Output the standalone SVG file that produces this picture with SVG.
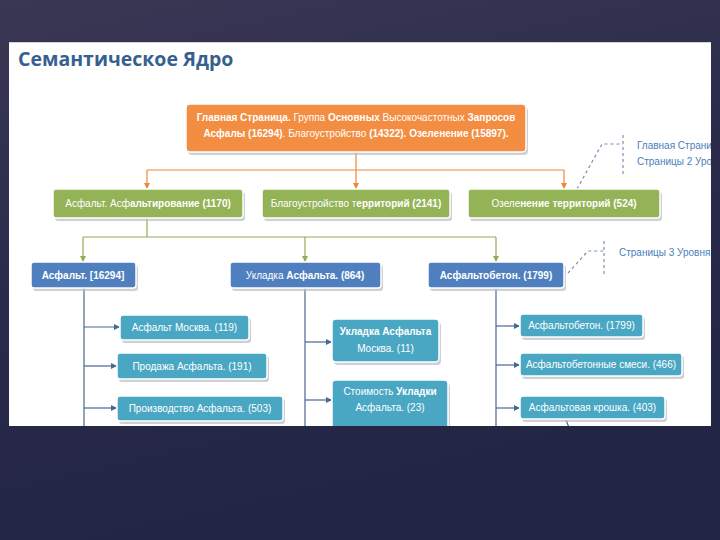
<svg xmlns="http://www.w3.org/2000/svg" width="720" height="540" viewBox="0 0 720 540">
<defs>
<linearGradient id="bg" x1="0" y1="0" x2="0.3" y2="1">
<stop offset="0" stop-color="#3a3754"/>
<stop offset="0.5" stop-color="#2a2b4b"/>
<stop offset="1" stop-color="#232545"/>
</linearGradient>
<clipPath id="panel"><rect x="9" y="42" width="702" height="384"/></clipPath>
<marker id="aO" viewBox="0 0 6 6" refX="5" refY="3" markerWidth="6" markerHeight="6" orient="auto" markerUnits="userSpaceOnUse"><path d="M0,0 L6,3 L0,6 z" fill="#e8883c"/></marker>
<marker id="aG" viewBox="0 0 6 6" refX="5" refY="3" markerWidth="6" markerHeight="6" orient="auto" markerUnits="userSpaceOnUse"><path d="M0,0 L6,3 L0,6 z" fill="#8fae4f"/></marker>
<marker id="aB" viewBox="0 0 6 6" refX="5" refY="3" markerWidth="6" markerHeight="6" orient="auto" markerUnits="userSpaceOnUse"><path d="M0,0 L6,3 L0,6 z" fill="#4a6891"/></marker>
<style>
.sh{fill:#b9bcc2;opacity:0.7}
.box{stroke:#ffffff;stroke-width:1.5}
.or{fill:#f28d42}
.gr{fill:#93b356}
.bl{fill:#4f7fbe}
.tl{fill:#49a7c3}
.t{font-family:"Liberation Sans","DejaVu Sans",sans-serif;font-size:10px;fill:#ffffff;text-anchor:middle}
.b{font-weight:bold}
.title{font-family:"Open Sans","Liberation Sans",sans-serif;font-size:19.5px;font-weight:bold;fill:#35608f}
.note{font-family:"Liberation Sans","DejaVu Sans",sans-serif;font-size:10px;fill:#4a7ebb}
.cO{stroke:#e8883c;stroke-width:1.2;fill:none}
.cG{stroke:#8fae4f;stroke-width:1.2;fill:none}
.cB{stroke:#4a6891;stroke-width:1.2;fill:none}
.dash{stroke:#7c8fae;stroke-width:1.2;stroke-dasharray:3,3;fill:none}
</style>
</defs>
<rect x="0" y="0" width="720" height="540" fill="url(#bg)"/>
<rect x="9" y="42" width="702" height="384" fill="#ffffff"/>
<line x1="9" y1="42.5" x2="711" y2="42.5" stroke="#d4d4d8" stroke-width="1"/>
<text class="title" x="18" y="66">Семантическое Ядро</text>
<g clip-path="url(#panel)">
<g id="connectors">
<path class="cO" d="M356,152 V170"/>
<path class="cO" d="M147,170 H564"/>
<path class="cO" d="M147,170 V188" marker-end="url(#aO)"/>
<path class="cO" d="M356,170 V188" marker-end="url(#aO)"/>
<path class="cO" d="M564,170 V188" marker-end="url(#aO)"/>
<path class="cG" d="M147,218 V237"/>
<path class="cG" d="M83,237 H496"/>
<path class="cG" d="M83,237 V261" marker-end="url(#aG)"/>
<path class="cG" d="M305,237 V261" marker-end="url(#aG)"/>
<path class="cG" d="M496,237 V261" marker-end="url(#aG)"/>
<path class="cB" d="M84,288 V430"/>
<path class="cB" d="M84,327 H119" marker-end="url(#aB)"/>
<path class="cB" d="M84,366 H116" marker-end="url(#aB)"/>
<path class="cB" d="M84,408 H116" marker-end="url(#aB)"/>
<path class="cB" d="M305,288 V430"/>
<path class="cB" d="M305,342 H331" marker-end="url(#aB)"/>
<path class="cB" d="M305,400 H331" marker-end="url(#aB)"/>
<path class="cB" d="M496,288 V430"/>
<path class="cB" d="M496,326 H519" marker-end="url(#aB)"/>
<path class="cB" d="M496,365 H519" marker-end="url(#aB)"/>
<path class="cB" d="M496,408 H519" marker-end="url(#aB)"/>
<path class="cB" d="M566,420 L570,430"/>
<path class="dash" d="M577,189 L602,144 H623 M623,135 V175"/>
<path class="dash" d="M568,273 L588,251 H604 M604,241 V276"/>
</g>
<g id="notes">
<text class="note" x="637" y="149">Главная Страни</text>
<text class="note" x="637" y="165">Страницы 2 Уро</text>
<text class="note" x="619" y="256">Страницы 3 Уровня</text>
</g>
<g id="n-main">
<rect class="sh" x="188" y="107" width="340" height="48" rx="4"/>
<rect class="box or" x="186" y="104" width="340" height="48" rx="4"/>
<text class="t" x="356" y="121"><tspan class="b">Главная Страница.</tspan> Группа <tspan class="b">Основных</tspan> Высокочастотных <tspan class="b">Запросов</tspan></text>
<text class="t" x="356" y="137"><tspan class="b">Асфалы (16294)</tspan>. Благоустройство <tspan class="b">(14322). Озеленение (15897).</tspan></text>
</g>
<g id="n-g1">
<rect class="sh" x="55" y="192" width="190" height="29" rx="3"/>
<rect class="box gr" x="53" y="189" width="190" height="29" rx="3"/>
<text class="t" x="148" y="207">Асфальт. Асф<tspan class="b">альтирование (1170)</tspan></text>
</g>
<g id="n-g2">
<rect class="sh" x="264" y="192" width="188" height="29" rx="3"/>
<rect class="box gr" x="262" y="189" width="188" height="29" rx="3"/>
<text class="t" x="356" y="207">Благоустройство т<tspan class="b">ерриторий (2141)</tspan></text>
</g>
<g id="n-g3">
<rect class="sh" x="470" y="192" width="192" height="29" rx="3"/>
<rect class="box gr" x="468" y="189" width="192" height="29" rx="3"/>
<text class="t" x="564" y="207">Озеле<tspan class="b">нение территорий (524)</tspan></text>
</g>
<g id="n-b1">
<rect class="sh" x="33" y="265" width="105" height="26" rx="3"/>
<rect class="box bl" x="31" y="262" width="105" height="26" rx="3"/>
<text class="t b" x="83" y="278.5">Асфальт. [16294]</text>
</g>
<g id="n-b2">
<rect class="sh" x="232" y="265" width="151" height="26" rx="3"/>
<rect class="box bl" x="230" y="262" width="151" height="26" rx="3"/>
<text class="t" x="305" y="278.5">Укладка <tspan class="b">Асфальта. (864)</tspan></text>
</g>
<g id="n-b3">
<rect class="sh" x="430" y="265" width="136" height="26" rx="3"/>
<rect class="box bl" x="428" y="262" width="136" height="26" rx="3"/>
<text class="t b" x="496" y="278.5">Асфальтобетон. (1799)</text>
</g>
<g id="n-t11">
<rect class="sh" x="122" y="318" width="129" height="25" rx="3"/>
<rect class="box tl" x="120" y="315" width="129" height="25" rx="3"/>
<text class="t" x="184.5" y="331">Асфальт Москва. (119)</text>
</g>
<g id="n-t12">
<rect class="sh" x="119" y="356" width="150" height="26" rx="3"/>
<rect class="box tl" x="117" y="353" width="150" height="26" rx="3"/>
<text class="t" x="192" y="369.5">Продажа Асфальта. (191)</text>
</g>
<g id="n-t13">
<rect class="sh" x="119" y="399" width="166" height="25" rx="3"/>
<rect class="box tl" x="117" y="396" width="166" height="25" rx="3"/>
<text class="t" x="200" y="412">Производство Асфальта. (503)</text>
</g>
<g id="n-t21">
<rect class="sh" x="334" y="322" width="107" height="43" rx="4"/>
<rect class="box tl" x="332" y="319" width="107" height="43" rx="4"/>
<text class="t b" x="385.5" y="335">Укладка Асфальта</text>
<text class="t" x="385.5" y="352">Москва. (11)</text>
</g>
<g id="n-t22">
<rect class="sh" x="334" y="383" width="116" height="50" rx="4"/>
<rect class="box tl" x="332" y="380" width="116" height="50" rx="4"/>
<text class="t" x="390" y="395">Стоимость <tspan class="b">Укладки</tspan></text>
<text class="t" x="390" y="411">Асфальта. (23)</text>
</g>
<g id="n-t31">
<rect class="sh" x="522" y="317" width="123" height="23" rx="3"/>
<rect class="box tl" x="520" y="314" width="123" height="23" rx="3"/>
<text class="t" x="581.5" y="329">Асфальтобетон. (1799)</text>
</g>
<g id="n-t32">
<rect class="sh" x="522" y="356" width="162" height="23" rx="3"/>
<rect class="box tl" x="520" y="353" width="162" height="23" rx="3"/>
<text class="t" x="601" y="368">Асфальтобетонные смеси. (466)</text>
</g>
<g id="n-t33">
<rect class="sh" x="522" y="399" width="145" height="23" rx="3"/>
<rect class="box tl" x="520" y="396" width="145" height="23" rx="3"/>
<text class="t" x="592.5" y="411">Асфальтовая крошка. (403)</text>
</g>
</g>
</svg>
